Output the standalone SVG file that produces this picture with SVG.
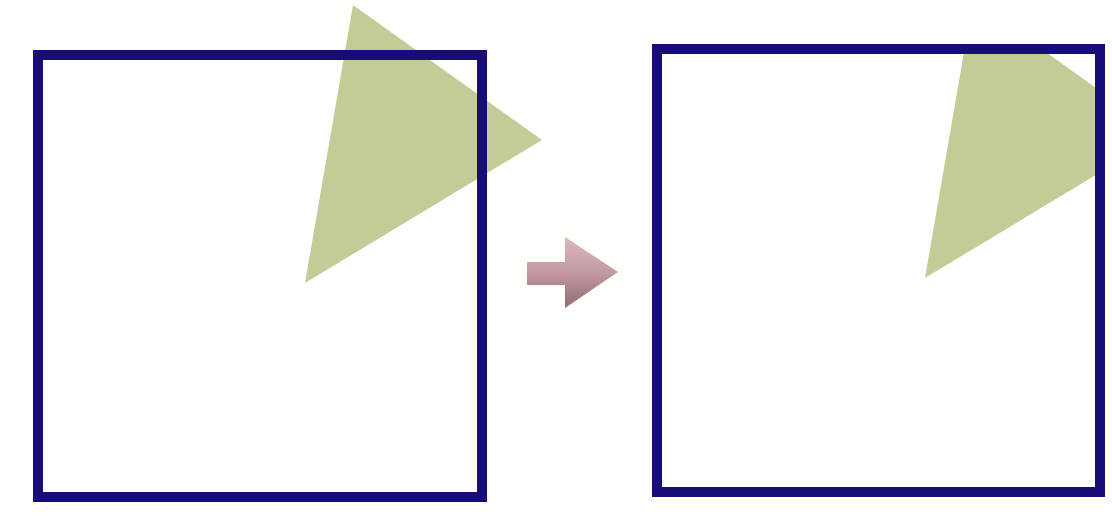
<svg xmlns="http://www.w3.org/2000/svg" width="1112" height="532" viewBox="0 0 1112 532">
  <style>
    .frame { fill: none; stroke: #170c78; stroke-width: 10; }
    .tri { fill: #c3cc96; }
  </style>
  <defs>
    <linearGradient id="arrowGrad" x1="0" y1="0" x2="0" y2="1">
      <stop offset="0" stop-color="#d9b8bd"/>
      <stop offset="0.5" stop-color="#c49aa2"/>
      <stop offset="1" stop-color="#8e6a72"/>
    </linearGradient>
    <clipPath id="clipRight">
      <rect x="662" y="54" width="433" height="433"/>
    </clipPath>
  </defs>
  <rect width="1112" height="532" fill="#fffffc"/>
  <g id="before">
    <rect x="38" y="55" width="444" height="442" fill="#ffffff"/>
    <polygon class="tri" points="353,5 542,140 305,283"/>
    <rect class="frame" x="38" y="55" width="444" height="442"/>
  </g>
  <g id="connectors">
    <polygon points="527,262 565,262 565,237 618,272 565,308 565,285 527,285" fill="url(#arrowGrad)"/>
  </g>
  <g id="after">
    <rect x="657" y="49" width="443" height="443" fill="#ffffff"/>
    <polygon class="tri" points="973,0 1162,135 925,278" clip-path="url(#clipRight)"/>
    <rect class="frame" x="657" y="49" width="443" height="443"/>
  </g>
</svg>
